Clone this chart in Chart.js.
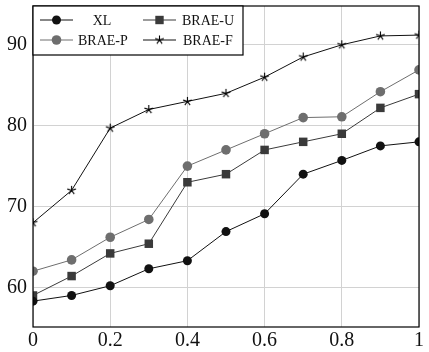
<!DOCTYPE html>
<html>
<head>
<meta charset="utf-8">
<script src="https://cdn.jsdelivr.net/npm/chart.js@4"></script>
<style>
  html, body { margin: 0; padding: 0; background: #fff; }
  #wrap { width: 429px; height: 352px; }
</style>
</head>
<body>
<div id="wrap"><canvas id="chart" width="429" height="352"></canvas></div>
<script>
const xValues = [0, 0.1, 0.2, 0.3, 0.4, 0.5, 0.6, 0.7, 0.8, 0.9, 1];
const xlValues = [58.3, 59, 60.2, 62.3, 63.3, 66.9, 69.1, 74, 75.7, 77.5, 78];
const braeUValues = [59, 61.4, 64.2, 65.4, 73, 74, 77, 78, 79, 82.2, 83.9];
const braePValues = [62, 63.4, 66.2, 68.4, 75, 77, 79, 81, 81.1, 84.2, 86.9];
const braeFValues = [68, 72, 79.7, 82, 83, 84, 86, 88.5, 90, 91.1, 91.2];
const seriesNames = ["XL", "BRAE-U", "BRAE-P", "BRAE-F"];

const FONT = "'Liberation Serif', 'DejaVu Serif', serif";

// five-pointed star marker, like pgfplots "star"
function makeStar(size) {
  const c = document.createElement("canvas");
  c.width = size;
  c.height = size;
  const g = c.getContext("2d");
  const cx = size / 2, cy = size / 2, r = size / 2 - 1;
  g.strokeStyle = "#000";
  g.lineWidth = 1.1;
  g.beginPath();
  for (let i = 0; i < 5; i++) {
    const a = -Math.PI / 2 + (i * 2 * Math.PI) / 5;
    g.moveTo(cx, cy);
    g.lineTo(cx + r * Math.cos(a), cy + r * Math.sin(a));
  }
  g.stroke();
  return c;
}
const starImg = makeStar(11);

function toPoints(vals) {
  return vals.map((v, i) => ({ x: xValues[i], y: v }));
}

const datasets = [
  { label: seriesNames[0], data: toPoints(xlValues), borderColor: "#111", backgroundColor: "#111", pointStyle: "circle", pointRadius: 4.5 },
  { label: seriesNames[1], data: toPoints(braeUValues), borderColor: "#3a3a3a", backgroundColor: "#3a3a3a", pointStyle: "rect", pointRadius: 6 },
  { label: seriesNames[2], data: toPoints(braePValues), borderColor: "#6e6e6e", backgroundColor: "#6e6e6e", pointStyle: "circle", pointRadius: 4.8 },
  { label: seriesNames[3], data: toPoints(braeFValues), borderColor: "#111", backgroundColor: "#111", pointStyle: starImg, pointRadius: 5 },
].map((d) => Object.assign(d, { borderWidth: 1, tension: 0, pointBorderWidth: 0, pointHoverRadius: 5 }));

// frame + boxed legend drawn on top
const framePlugin = {
  id: "frame",
  afterDraw(chart) {
    const { ctx, chartArea: a } = chart;
    ctx.save();
    ctx.strokeStyle = "#000";
    ctx.lineWidth = 1.2;
    ctx.strokeRect(a.left, a.top, a.right - a.left, a.bottom - a.top);

    // legend box
    const bx = a.left, by = a.top, bw = 210, bh = 49;
    ctx.fillStyle = "#fff";
    ctx.fillRect(bx, by, bw, bh);
    ctx.strokeRect(bx, by, bw, bh);
    ctx.font = "14px " + FONT;
    ctx.textBaseline = "middle";
    const cells = [
      { i: 0, x: bx + 7, y: by + 14, tx: bx + 69, center: true },
      { i: 1, x: bx + 110, y: by + 14, tx: bx + 149 },
      { i: 2, x: bx + 7, y: by + 34, tx: bx + 45 },
      { i: 3, x: bx + 110, y: by + 34, tx: bx + 150 },
    ];
    cells.forEach((c) => {
      const ds = chart.data.datasets[c.i];
      ctx.strokeStyle = ds.borderColor;
      ctx.lineWidth = 1;
      ctx.beginPath();
      ctx.moveTo(c.x, c.y);
      ctx.lineTo(c.x + 33, c.y);
      ctx.stroke();
      const mx = c.x + 16.5;
      if (ds.pointStyle === starImg) {
        ctx.drawImage(starImg, mx - 5.5, c.y - 5.5);
      } else {
        ctx.fillStyle = ds.backgroundColor;
        ctx.beginPath();
        if (ds.pointStyle === "rect") {
          ctx.rect(mx - 4.2, c.y - 4.2, 8.4, 8.4);
        } else {
          ctx.arc(mx, c.y, ds.pointRadius, 0, Math.PI * 2);
        }
        ctx.fill();
      }
      ctx.fillStyle = "#111";
      ctx.textAlign = c.center ? "center" : "left";
      ctx.fillText(ds.label, c.tx, c.y + 1);
    });
    ctx.restore();
  },
};

new Chart(document.getElementById("chart"), {
  type: "line",
  data: { datasets: datasets },
  options: {
    responsive: false,
    animation: false,
    layout: { padding: { top: 5, right: 10, left: 0, bottom: 0 } },
    plugins: { legend: { display: false }, tooltip: { enabled: false } },
    scales: {
      x: {
        type: "linear",
        min: 0,
        max: 1,
        ticks: {
          stepSize: 0.2,
          color: "#111",
          font: { family: FONT, size: 20 },
          padding: 2,
          maxRotation: 0,
          callback: (v) => String(Math.round(v * 10) / 10),
        },
        grid: { color: "#d2d2d2", drawTicks: false, lineWidth: 1 },
        border: { display: false },
        afterFit(scale) {
          scale.height = 25;
          scale.paddingLeft = 0;
          scale.paddingRight = 0;
        },
      },
      y: {
        min: 55.1,
        max: 94.8,
        afterBuildTicks(scale) {
          scale.ticks = [60, 70, 80, 90].map((v) => ({ value: v }));
        },
        ticks: {
          color: "#111",
          font: { family: FONT, size: 20 },
          padding: 6,
        },
        grid: { color: "#d2d2d2", drawTicks: false, lineWidth: 1 },
        border: { display: false },
        afterFit(scale) {
          scale.width = 33;
          scale.paddingTop = 0;
          scale.paddingBottom = 0;
        },
      },
    },
  },
  plugins: [framePlugin],
});
</script>
</body>
</html>
